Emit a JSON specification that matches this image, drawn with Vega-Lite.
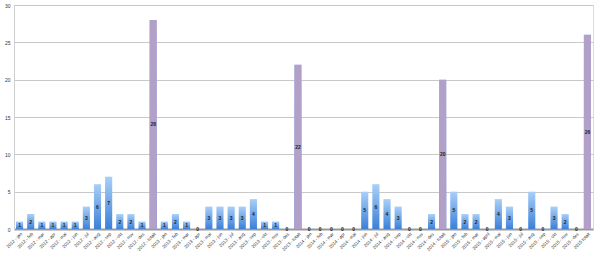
{
  "$schema": "https://vega.github.io/schema/vega-lite/v6.json",
  "autosize": "none",
  "width": 579,
  "height": 224,
  "padding": {"left": 14, "top": 5, "right": 7, "bottom": 28},
  "background": "white",
  "config": {
    "font": "Liberation Sans",
    "view": {"stroke": "#dcdcdc", "strokeWidth": 1}
  },
  "data": {
    "values": [
      {"label": "2012 - jan", "value": 1, "kind": "month"},
      {"label": "2012 - feb", "value": 2, "kind": "month"},
      {"label": "2012 - mar", "value": 1, "kind": "month"},
      {"label": "2012 - apr", "value": 1, "kind": "month"},
      {"label": "2012 - mai", "value": 1, "kind": "month"},
      {"label": "2012 - jun", "value": 1, "kind": "month"},
      {"label": "2012 - jul", "value": 3, "kind": "month"},
      {"label": "2012 - aug", "value": 6, "kind": "month"},
      {"label": "2012 - sep", "value": 7, "kind": "month"},
      {"label": "2012 - okt", "value": 2, "kind": "month"},
      {"label": "2012 - nov", "value": 2, "kind": "month"},
      {"label": "2012 - des", "value": 1, "kind": "month"},
      {"label": "2012 - totalt", "value": 28, "kind": "total"},
      {"label": "2013 - jan", "value": 1, "kind": "month"},
      {"label": "2013 - feb", "value": 2, "kind": "month"},
      {"label": "2013 - mar", "value": 1, "kind": "month"},
      {"label": "2013 - apr", "value": 0, "kind": "month"},
      {"label": "2013 - mai", "value": 3, "kind": "month"},
      {"label": "2013 - jun", "value": 3, "kind": "month"},
      {"label": "2013 - jul", "value": 3, "kind": "month"},
      {"label": "2013 - aug", "value": 3, "kind": "month"},
      {"label": "2013 - sep", "value": 4, "kind": "month"},
      {"label": "2013 - okt", "value": 1, "kind": "month"},
      {"label": "2013 - nov", "value": 1, "kind": "month"},
      {"label": "2013 - des", "value": 0, "kind": "month"},
      {"label": "2013 - totalt", "value": 22, "kind": "total"},
      {"label": "2014 - jan", "value": 0, "kind": "month"},
      {"label": "2014 - feb", "value": 0, "kind": "month"},
      {"label": "2014 - mar", "value": 0, "kind": "month"},
      {"label": "2014 - apr", "value": 0, "kind": "month"},
      {"label": "2014 - mai", "value": 0, "kind": "month"},
      {"label": "2014 - jun", "value": 5, "kind": "month"},
      {"label": "2014 - jul", "value": 6, "kind": "month"},
      {"label": "2014 - aug", "value": 4, "kind": "month"},
      {"label": "2014 - sep", "value": 3, "kind": "month"},
      {"label": "2014 - okt", "value": 0, "kind": "month"},
      {"label": "2014 - nov", "value": 0, "kind": "month"},
      {"label": "2014 - des", "value": 2, "kind": "month"},
      {"label": "2014 - totalt", "value": 20, "kind": "total"},
      {"label": "2015 - jan", "value": 5, "kind": "month"},
      {"label": "2015 - feb", "value": 2, "kind": "month"},
      {"label": "2015 - mar", "value": 2, "kind": "month"},
      {"label": "2015 - april", "value": 0, "kind": "month"},
      {"label": "2015 - mai", "value": 4, "kind": "month"},
      {"label": "2015 - jun", "value": 3, "kind": "month"},
      {"label": "2015 - jul", "value": 0, "kind": "month"},
      {"label": "2015 - aug", "value": 5, "kind": "month"},
      {"label": "2015 - sep", "value": 0, "kind": "month"},
      {"label": "2015 - okt", "value": 3, "kind": "month"},
      {"label": "2015 - nov", "value": 2, "kind": "month"},
      {"label": "2015 - des", "value": 0, "kind": "month"},
      {"label": "2015 totalt", "value": 26, "kind": "total"}
    ]
  },
  "encoding": {
    "x": {
      "field": "label",
      "type": "nominal",
      "sort": null,
      "scale": {"paddingInner": 0.36, "paddingOuter": 0.18},
      "axis": {
        "title": null,
        "labelAngle": -45,
        "labelAlign": "right",
        "labelBaseline": "top",
        "labelFontSize": 4.5,
        "labelColor": "#333",
        "labelPadding": 2,
        "ticks": false,
        "domainColor": "#999",
        "domainWidth": 2,
        "labelOverlap": false
      }
    }
  },
  "layer": [
    {
      "mark": {
        "type": "bar",
        "color": {
          "gradient": "linear",
          "x1": 0, "y1": 0, "x2": 0, "y2": 1,
          "stops": [
            {"offset": 0, "color": "#a9cff8"},
            {"offset": 1, "color": "#3b80d8"}
          ]
        }
      },
      "encoding": {
        "y": {
          "field": "value",
          "type": "quantitative",
          "scale": {"domain": [0, 30]},
          "axis": {
            "title": null,
            "values": [0, 5, 10, 15, 20, 25, 30],
            "labelFontSize": 5,
            "labelColor": "#333",
            "ticks": false,
            "labelPadding": 4,
            "domainColor": "#cfcfcf",
            "gridColor": "#c8c8c8",
            "gridWidth": 1
          }
        }
      }
    },
    {
      "mark": {"type": "bar", "color": "#b3a0c9"},
      "encoding": {
        "y": {"field": "value", "type": "quantitative", "scale": {"domain": [0, 30]}, "axis": null},
        "opacity": {"condition": {"test": "datum.kind === 'total'", "value": 1}, "value": 0}
      }
    },
    {
      "mark": {"type": "text", "fontSize": 5, "fontWeight": "bold", "color": "#222", "baseline": "middle"},
      "encoding": {
        "y": {"field": "value", "type": "quantitative", "scale": {"domain": [0, 60]}, "axis": null},
        "text": {"field": "value", "type": "quantitative"}
      }
    }
  ],
  "resolve": {"scale": {"y": "independent"}}
}
